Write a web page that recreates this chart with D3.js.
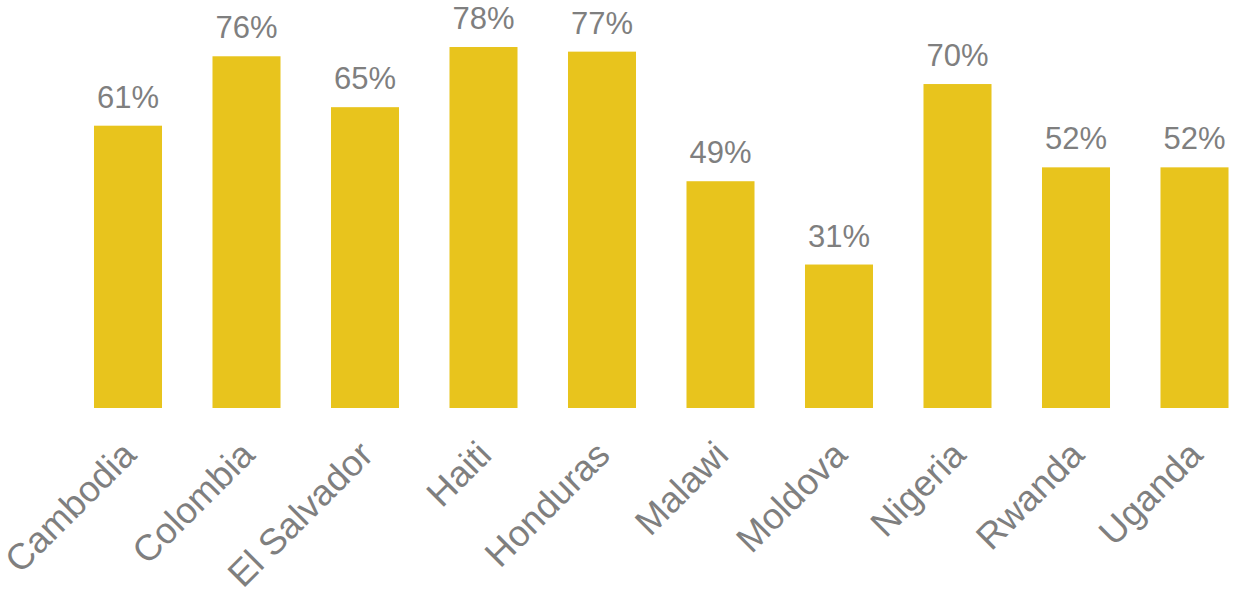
<!DOCTYPE html>
<html>
<head>
<meta charset="utf-8">
<script src="https://cdn.jsdelivr.net/npm/d3@7"></script>
<style>
  body { margin: 0; background: #fff; }
  svg { display: block; font-family: "Liberation Sans", Arial, sans-serif; }
</style>
</head>
<body>
<div id="chart"></div>
<script>
var countries = ['Cambodia', 'Colombia', 'El Salvador', 'Haiti', 'Honduras',
    'Malawi', 'Moldova', 'Nigeria', 'Rwanda', 'Uganda'];
var shares = [61, 76, 65, 78, 77, 49, 31, 70, 52, 52];

var width = 1234, height = 592;
var baseline = 408;

var svg = d3.select('#chart').append('svg')
    .attr('width', width)
    .attr('height', height);

var x = d3.scaleBand()
    .domain(countries)
    .range([68.75, 1253.75])
    .paddingInner(0.426)
    .paddingOuter(0.213);

var y = d3.scaleLinear()
    .domain([0, 100])
    .range([baseline, baseline - 462.8]);

svg.selectAll('rect.bar')
    .data(countries)
    .enter().append('rect')
    .attr('class', 'bar')
    .attr('x', function(d) { return x(d); })
    .attr('y', function(d, i) { return y(shares[i]); })
    .attr('width', x.bandwidth())
    .attr('height', function(d, i) { return y(0) - y(shares[i]); })
    .attr('fill', '#E8C41D');

svg.selectAll('text.value')
    .data(countries)
    .enter().append('text')
    .attr('class', 'value')
    .attr('x', function(d) { return x(d) + x.bandwidth() / 2; })
    .attr('y', function(d, i) { return y(shares[i]) - 18; })
    .attr('text-anchor', 'middle')
    .attr('font-size', 31)
    .attr('fill', '#7f7f7f')
    .text(function(d, i) { return shares[i] + '%'; });

// rotated country names, anchored at their end under each bar
svg.selectAll('text.cat')
    .data(countries)
    .enter().append('text')
    .attr('class', 'cat')
    .attr('transform', function(d) {
        var cx = x(d) + x.bandwidth() / 2 + 10;
        return 'translate(' + cx + ',' + (baseline + 49) + ') rotate(-45)';
    })
    .attr('text-anchor', 'end')
    .attr('font-size', 36.5)
    .attr('fill', '#7f7f7f')
    .text(function(d) { return d; });
</script>
</body>
</html>
